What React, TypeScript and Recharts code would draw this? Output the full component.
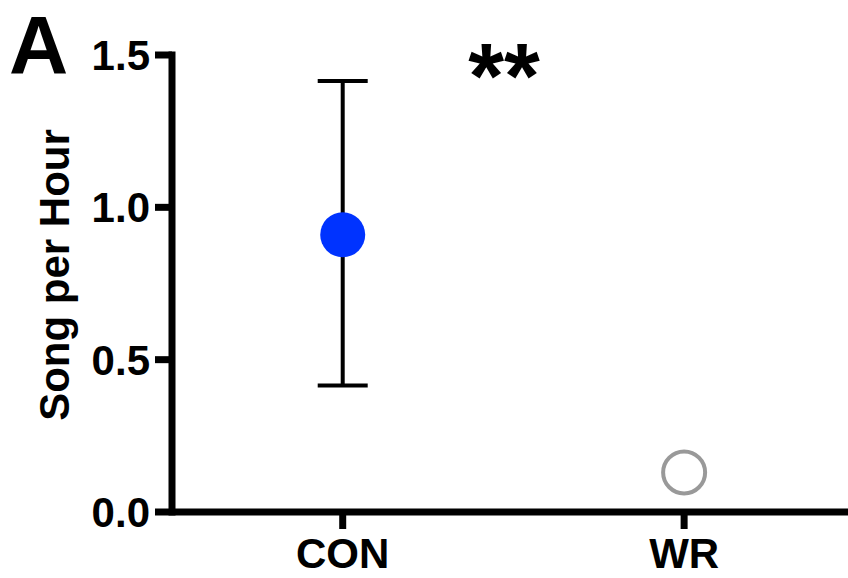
import {
  ComposedChart,
  Scatter,
  ErrorBar,
  XAxis,
  YAxis,
} from 'recharts';

const categories = ['CON', 'WR'];
const means = [0.91, 0.13];
const errLow = [0.495, 0];
const errHigh = [0.505, 0];
const yTicks = [0, 0.5, 1.0, 1.5];

const FONT = '"Liberation Sans", Arial, Helvetica, sans-serif';

const conData = [{ x: 0, y: means[0], err: [errLow[0], errHigh[0]] }];
const wrData = [{ x: 1, y: means[1], err: [errLow[1], errHigh[1]] }];

const FilledDot = (props: any) => (
  <circle cx={props.cx} cy={props.cy} r={22.5} fill="#0033ff" />
);

const OpenDot = (props: any) => (
  <circle cx={props.cx} cy={props.cy} r={21} fill="none" stroke="#999999" strokeWidth={4} />
);

const NoDot = () => <g />;

const tickStyle = { fill: '#000', fontSize: 42, fontWeight: 700, fontFamily: FONT };
const axisLineStyle = { stroke: '#000', strokeWidth: 7, strokeLinecap: 'square' as const };
const tickLineStyle = { stroke: '#000', strokeWidth: 7 };

export default function App() {
  return (
    <div style={{ position: 'absolute', left: 0, top: 0, background: '#fff' }}>
      <style>{'.recharts-errorBar line { stroke-width: 4px; stroke: #000; }'}</style>
      <ComposedChart
        width={848}
        height={578}
        margin={{ top: 55, right: 0, bottom: 6, left: 0 }}
      >
        <XAxis
          type="number"
          dataKey="x"
          domain={[-0.5, 1.48]}
          ticks={[0, 1]}
          tickFormatter={(v: number) => categories[v]}
          axisLine={{ ...axisLineStyle, strokeLinecap: 'butt' }}
          tickLine={tickLineStyle}
          tickSize={17}
          tickMargin={9}
          tick={tickStyle}
          height={60}
          allowDataOverflow
        />
        <YAxis
          type="number"
          dataKey="y"
          domain={[0, 1.5]}
          ticks={yTicks}
          tickFormatter={(v: number) => v.toFixed(1)}
          axisLine={axisLineStyle}
          tickLine={tickLineStyle}
          tickSize={17}
          tickMargin={5}
          tick={tickStyle}
          width={172}
          allowDataOverflow
        />
        <Scatter data={conData} shape={FilledDot} isAnimationActive={false} />
        <Scatter data={conData} shape={NoDot} isAnimationActive={false}>
          <ErrorBar dataKey="err" direction="y" width={25} stroke="#000" strokeWidth={4} />
        </Scatter>
        <Scatter data={wrData} shape={OpenDot} isAnimationActive={false} />
        <text x={9} y={73} fontSize={82} fontWeight={700} fontFamily={FONT} fill="#000">
          A
        </text>
        <text x={504} y={108} fontSize={92} fontWeight={700} fontFamily={FONT} fill="#000" textAnchor="middle">
          **
        </text>
        <text
          x={0}
          y={0}
          transform="translate(69, 275) rotate(-90)"
          fontSize={42}
          fontWeight={700}
          fontFamily={FONT}
          fill="#000"
          textAnchor="middle"
        >
          Song per Hour
        </text>
      </ComposedChart>
    </div>
  );
}
